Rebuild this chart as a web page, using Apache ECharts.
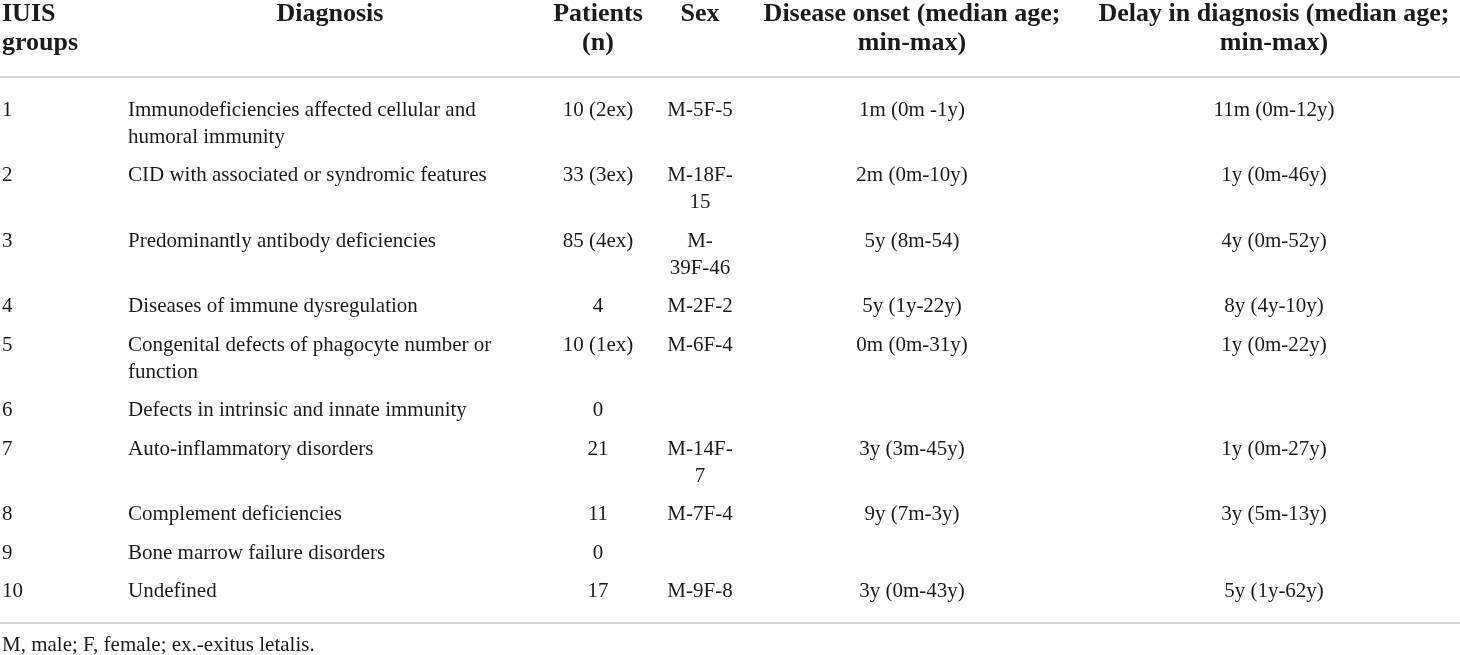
<!DOCTYPE html>
<html>
<head>
<meta charset="utf-8">
<title>IUIS groups</title>
<script src="https://cdn.jsdelivr.net/npm/echarts@6/dist/echarts.min.js"></script>
<style>
  html, body { margin: 0; padding: 0; background: #fff; }
  #table_chart { width: 1460px; height: 655px; }
</style>
</head>
<body>
<div id="table_chart"></div>
<script>
"use strict";

// table content
var headers = ['IUIS\ngroups', 'Diagnosis', 'Patients\n(n)', 'Sex', 'Disease onset (median age;\nmin-max)', 'Delay in diagnosis (median age;\nmin-max)'];
var groups = ['1', '2', '3', '4', '5', '6', '7', '8', '9', '10'];
var diagnoses = [
  'Immunodeficiencies affected cellular and\nhumoral immunity',
  'CID with associated or syndromic features',
  'Predominantly antibody deficiencies',
  'Diseases of immune dysregulation',
  'Congenital defects of phagocyte number or\nfunction',
  'Defects in intrinsic and innate immunity',
  'Auto-inflammatory disorders',
  'Complement deficiencies',
  'Bone marrow failure disorders',
  'Undefined'
];
var patients = ['10 (2ex)', '33 (3ex)', '85 (4ex)', '4', '10 (1ex)', '0', '21', '11', '0', '17'];
var sex = ['M-5F-5', 'M-18F-\n15', 'M-\n39F-46', 'M-2F-2', 'M-6F-4', '', 'M-14F-\n7', 'M-7F-4', '', 'M-9F-8'];
var onset = ['1m (0m -1y)', '2m (0m-10y)', '5y (8m-54)', '5y (1y-22y)', '0m (0m-31y)', '', '3y (3m-45y)', '9y (7m-3y)', '', '3y (0m-43y)'];
var delay = ['11m (0m-12y)', '1y (0m-46y)', '4y (0m-52y)', '8y (4y-10y)', '1y (0m-22y)', '', '1y (0m-27y)', '3y (5m-13y)', '', '5y (1y-62y)'];
var footnote = 'M, male; F, female; ex.-exitus letalis.';

// layout
var colX = [2, 128, 598, 700, 912, 1274];
var colAlign = ['left', 'left', 'center', 'center', 'center', 'center'];
var headX = [2, 330, 598, 700, 912, 1274];
var headAlign = ['left', 'center', 'center', 'center', 'center', 'center'];
var FONT = "'Liberation Serif', 'Times New Roman', serif";
var TEXT_COLOR = '#1e1a1b';
var BODY_SIZE = 21, BODY_LH = 27, ROW_GAP = 11.5;
var HEAD_SIZE = 26, HEAD_LH = 29;

var columns = [groups, diagnoses, patients, sex, onset, delay];

// row positions (centre of first text line), from the line count of each row
var rowY = [];
var y = 110;
for (var r = 0; r < groups.length; r++) {
  rowY.push(y);
  var lines = 1;
  columns.forEach(function(col) {
    lines = Math.max(lines, col[r].split('\n').length);
  });
  y += lines * BODY_LH + ROW_GAP;
}

// cells: [x, y, text, align, kind]
var cells = [];
headers.forEach(function(h, c) {
  cells.push([headX[c], 14, h, headAlign[c], 'head']);
});
columns.forEach(function(col, c) {
  col.forEach(function(txt, r) {
    if (txt !== '') cells.push([colX[c], rowY[r], txt, colAlign[c], 'body']);
  });
});
cells.push([2, 645, footnote, 'left', 'body']);

var table_chart = echarts.init(document.getElementById('table_chart'));
var option = {
  animation: false,
  grid: { left: 0, right: 0, top: 0, bottom: 0 },
  xAxis: { type: 'value', min: 0, max: 1460, show: false },
  yAxis: { type: 'value', min: 0, max: 655, inverse: true, show: false },
  series: [{
    type: 'custom',
    coordinateSystem: 'cartesian2d',
    data: cells,
    encode: { x: 0, y: 1 },
    renderItem: function(params, api) {
      var d = cells[params.dataIndex];
      var p = api.coord([d[0], d[1]]);
      var head = d[4] === 'head';
      var lh = head ? HEAD_LH : BODY_LH;
      return {
        type: 'text',
        x: p[0],
        y: p[1] - lh / 2,
        style: {
          text: d[2],
          fill: TEXT_COLOR,
          fontFamily: FONT,
          fontSize: head ? HEAD_SIZE : BODY_SIZE,
          fontWeight: head ? 'bold' : 'normal',
          lineHeight: lh,
          align: d[3],
          verticalAlign: 'top'
        }
      };
    },
    markLine: {
      silent: true,
      symbol: 'none',
      label: { show: false },
      lineStyle: { color: '#c8c8c8', width: 1.5, type: 'solid' },
      data: [{ yAxis: 77 }, { yAxis: 623 }]
    }
  }]
};
table_chart.setOption(option);
</script>
</body>
</html>
